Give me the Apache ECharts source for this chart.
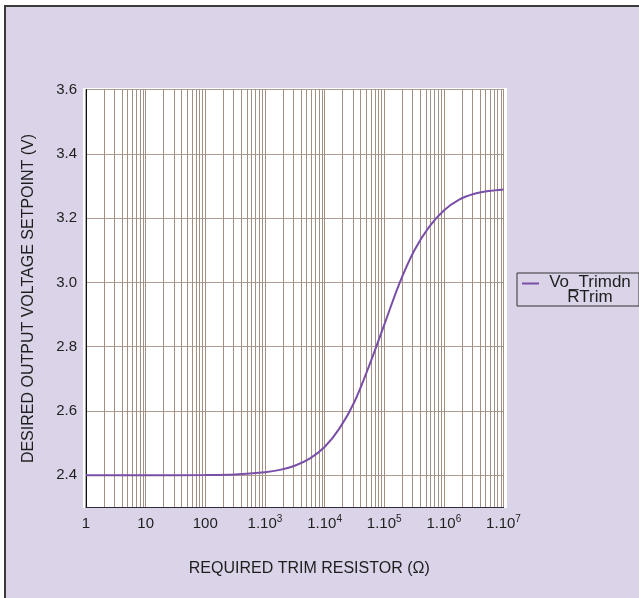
<!DOCTYPE html>
<html>
<head>
<meta charset="utf-8">
<script src="https://cdn.jsdelivr.net/npm/echarts@6/dist/echarts.min.js"></script>
<style>
html,body{margin:0;padding:0;background:#fff;}
#chart{width:639px;height:598px;}
</style>
</head>
<body>
<div id="chart"></div>
<script>
// ---- data ----
var resistance = [1, 10, 100, 316, 1000, 1780, 3160, 5620, 1e4, 17800, 31600, 56200, 1e5, 178000, 316000, 562000, 1e6, 1780000, 3160000, 5620000, 1e7];
var voltage    = [2.400, 2.400, 2.401, 2.403, 2.410, 2.417, 2.430, 2.452, 2.488, 2.546, 2.628, 2.742, 2.868, 2.995, 3.098, 3.172, 3.224, 3.257, 3.275, 3.284, 3.289];
var xDecades   = [1, 10, 100, 1e3, 1e4, 1e5, 1e6, 1e7];
var xTickLabels = ['1', '10', '100', '1.10^3', '1.10^4', '1.10^5', '1.10^6', '1.10^7'];
var yTicks     = [2.4, 2.6, 2.8, 3.0, 3.2, 3.4, 3.6];
var seriesName = 'Vo_Trimdn';
var legendSub  = 'RTrim';
var xTitle = 'REQUIRED TRIM RESISTOR (\u03A9)';
var yTitle = 'DESIRED OUTPUT VOLTAGE SETPOINT (V)';

// gridline positions (1..9 x each decade)
var xGridVals = [];
for (var d = 0; d < xDecades.length - 1; d++) {
  for (var m = 1; m < 10; m++) xGridVals.push(Number((m * xDecades[d]).toPrecision(3)));
}
xGridVals.push(xDecades[xDecades.length - 1]);

var pts = resistance.map(function (r, i) { return [r, voltage[i]]; });

var chart = echarts.init(document.getElementById('chart'), null, {renderer: 'canvas'});
var txt = '#1e1e1e';
var lineColor = '#7a4fa8';
var option = {
  backgroundColor: '#ffffff',
  animation: false,
  graphic: [
    {type: 'rect', z: -20, silent: true, shape: {x: 5, y: 6, width: 700, height: 700},
     style: {fill: '#dbd3e8', stroke: '#3a3a3a', lineWidth: 2}},
    {type: 'rect', z: -19, silent: true, shape: {x: 83, y: 88, width: 424, height: 420},
     style: {fill: '#ffffff'}}
  ],
  grid: {left: 86, top: 89.5, width: 417.5, height: 418, show: true, borderColor: '#555', borderWidth: 1,
         backgroundColor: 'transparent', containLabel: false, outerBoundsMode: 'none'},
  legend: {
    show: true, left: 517, top: 273, orient: 'vertical',
    padding: [1, 3, 0, 5],
    borderColor: '#333', borderWidth: 1, backgroundColor: '#dbd3e8',
    itemWidth: 17, itemHeight: 15,
    data: [{name: seriesName, icon: 'path://M0,0H17V2H0Z M0,14.95H0.02V15H0Z'}],
    formatter: function () { return '{a|' + seriesName + '}\n{b|' + legendSub + '}'; },
    textStyle: {color: txt, fontFamily: 'Liberation Sans', fontSize: 17,
      rich: {a: {fontSize: 17, lineHeight: 15, width: 92, align: 'center', color: txt, fontFamily: 'Liberation Sans'},
             b: {fontSize: 17, lineHeight: 15, width: 92, align: 'center', color: txt, fontFamily: 'Liberation Sans'}}}
  },
  xAxis: {
    type: 'log', logBase: 10, min: 1, max: 1e7,
    name: xTitle, nameLocation: 'middle', nameGap: 53,
    nameTextStyle: {color: txt, fontSize: 16, fontFamily: 'Liberation Sans', padding: [0, 0, 0, 29]},
    axisLine: {show: true, onZero: false, lineStyle: {color: '#2b2b3c', width: 1}},
    axisTick: {show: false, customValues: xGridVals},
    axisLabel: {
      customValues: xDecades, margin: 7, color: txt,
      formatter: function (v) {
        var i = -1;
        for (var k = 0; k < xDecades.length; k++) if (Math.abs(xDecades[k] - v) / xDecades[k] < 1e-6) i = k;
        var s = i >= 0 ? xTickLabels[i] : String(v);
        var parts = s.split('^');
        return parts.length > 1 ? '{b|' + parts[0] + '}{s|' + parts[1] + '}' : '{b|' + s + '}';
      },
      rich: {b: {fontSize: 15, lineHeight: 18, color: txt, fontFamily: 'Liberation Sans'},
             s: {fontSize: 10, lineHeight: 10, verticalAlign: 'top', color: txt, fontFamily: 'Liberation Sans'}}
    },
    splitLine: {show: true, lineStyle: {color: '#a48f83', width: 1}},
    minorTick: {show: false}, minorSplitLine: {show: false}
  },
  yAxis: {
    type: 'value', min: 2.3, max: 3.6,
    name: yTitle, nameLocation: 'middle', nameRotate: 90, nameGap: 49,
    nameTextStyle: {color: txt, fontSize: 16, fontFamily: 'Liberation Sans'},
    axisLine: {show: true, lineStyle: {color: '#111', width: 1}},
    axisTick: {show: false, customValues: yTicks},
    axisLabel: {customValues: yTicks, margin: 9, color: txt, fontSize: 15, fontFamily: 'Liberation Sans',
      formatter: function (v) { return Number(v).toFixed(1); }},
    splitLine: {show: true, lineStyle: {color: '#ad9c91', width: 1}}
  },
  series: [{
    name: seriesName, type: 'line', data: pts, smooth: 0.3, showSymbol: false, symbol: 'none',
    lineStyle: {color: lineColor, width: 2}, itemStyle: {color: lineColor}, z: 5
  }]
};
chart.setOption(option);
</script>
</body>
</html>
